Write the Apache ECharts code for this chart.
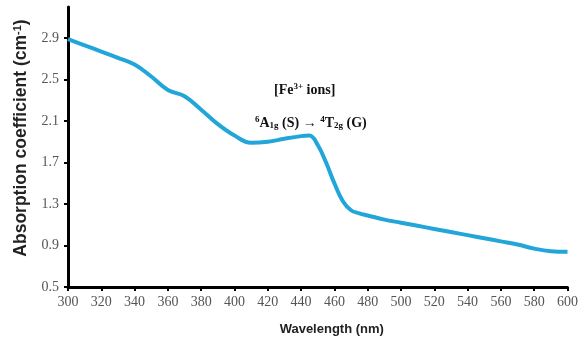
<!DOCTYPE html>
<html>
<head>
<meta charset="utf-8">
<script src="https://cdn.jsdelivr.net/npm/echarts@6/dist/echarts.min.js"></script>
<style>
  html, body { margin: 0; padding: 0; background: #fff; }
  #chart { width: 581px; height: 347px; }
</style>
</head>
<body>
<div id="chart"></div>
<script>
// data
var wavelength = [300, 310, 320, 330, 340, 350, 360, 370, 380, 390, 400, 410, 420, 430, 440, 445,
                  450, 455, 460, 465, 470, 475, 480, 490, 500, 510, 520, 530, 540, 550, 560, 570, 580, 590, 600];
var absorption = [2.89, 2.83, 2.77, 2.71, 2.645, 2.53, 2.40, 2.34, 2.21, 2.07, 1.96, 1.89, 1.90, 1.93, 1.955, 1.96,
                  1.87, 1.70, 1.50, 1.33, 1.24, 1.21, 1.19, 1.15, 1.12, 1.09, 1.06, 1.03, 1.00, 0.97, 0.94, 0.91, 0.87, 0.845, 0.84];
var yTicks = [0.5, 0.9, 1.3, 1.7, 2.1, 2.5, 2.9];

var points = [];
for (var i = 0; i < wavelength.length; i++) {
    points.push([wavelength[i], absorption[i]]);
}

var serif = '"Liberation Serif", "Times New Roman", serif';
var sans = '"Liberation Sans", Arial, sans-serif';

var myChart = echarts.init(document.getElementById('chart'));

var option = {
    animation: false,
    grid: { left: 68, right: 10, top: 7, bottom: 60 },
    xAxis: {
        type: 'value',
        min: 300,
        max: 600,
        interval: 20,
        name: 'Wavelength (nm)',
        nameLocation: 'middle',
        nameGap: 36,
        nameTextStyle: {
            fontFamily: sans,
            fontWeight: 'bold',
            fontSize: 13,
            color: '#222',
            padding: [0, 0, 0, 28]
        },
        axisLine: { lineStyle: { color: '#000', width: 3 } },
        axisTick: { show: true, length: 4, lineStyle: { color: '#000', width: 2 } },
        axisLabel: { fontFamily: serif, fontSize: 14, color: '#555', margin: 8 },
        splitLine: { show: false }
    },
    yAxis: {
        type: 'value',
        min: 0.5,
        max: 3.2,
        name: 'Absorption coefficient (cm{sup|-1})',
        nameLocation: 'middle',
        nameGap: 36,
        nameTextStyle: {
            fontFamily: sans,
            fontWeight: 'bold',
            fontSize: 17.5,
            color: '#222',
            padding: [0, 0, 0, 18],
            rich: {
                sup: { fontFamily: sans, fontWeight: 'bold', fontSize: 11, color: '#222', verticalAlign: 'top', padding: [0, 0, 8, 0] }
            }
        },
        axisLine: { show: true, lineStyle: { color: '#000', width: 3 } },
        axisTick: { show: true, length: 4, customValues: yTicks, lineStyle: { color: '#000', width: 2 } },
        axisLabel: {
            fontFamily: serif, fontSize: 14, color: '#555', margin: 9,
            customValues: yTicks,
            formatter: function (v) { return v.toFixed(1); }
        },
        splitLine: { show: false }
    },
    graphic: [
        {
            type: 'text',
            left: 274,
            top: 82,
            style: {
                text: '[Fe{sup|3+} ions]',
                font: 'bold 14px ' + serif,
                fill: '#111',
                rich: {
                    sup: { fontSize: 9, fontWeight: 'bold', fontFamily: serif, fill: '#111', padding: [0, 0, 7, 0] }
                }
            }
        },
        {
            type: 'text',
            left: 255,
            top: 115,
            style: {
                text: '{sup|6}A{sub|1g} (S) \u2192 {sup|4}T{sub|2g} (G)',
                font: 'bold 14px ' + serif,
                fill: '#111',
                rich: {
                    sup: { fontSize: 9, fontWeight: 'bold', fontFamily: serif, fill: '#111', padding: [0, 0, 7, 0] },
                    sub: { fontSize: 9, fontWeight: 'bold', fontFamily: serif, fill: '#111', padding: [6, 0, 0, 0] }
                }
            }
        }
    ],
    series: [{
        type: 'line',
        data: points,
        smooth: 0.4,
        symbol: 'none',
        lineStyle: { color: '#22a6d9', width: 4 }
    }]
};

myChart.setOption(option);
</script>
</body>
</html>
